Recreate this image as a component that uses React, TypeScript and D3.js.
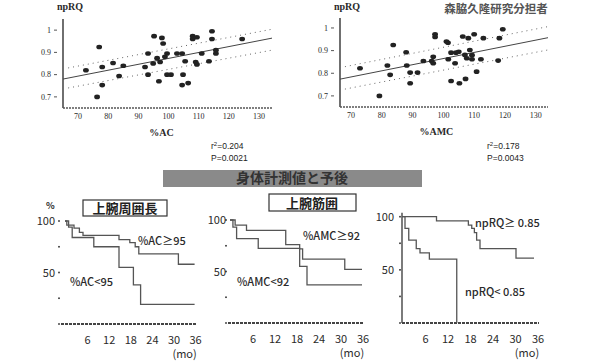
import React from "react";
import * as d3 from "d3";

// scatter data: [% of standard, npRQ]
const acPoints: [number, number][] = [
  [77, 0.924], [72.6, 0.82], [76.3, 0.7], [78, 0.753], [78, 0.834], [81.6, 0.852],
  [85, 0.84], [83.6, 0.794], [93.2, 0.895], [93.2, 0.8], [92.2, 0.834], [95.2, 0.973],
  [97.8, 0.965], [98.2, 0.94], [96.8, 0.77], [94.9, 0.85], [97.2, 0.857], [96.2, 0.874],
  [99.5, 0.895], [98.8, 0.88], [99.5, 0.8], [100.8, 0.8], [102.8, 0.895], [104.5, 0.895],
  [104.8, 0.8], [104.5, 0.753], [106.5, 0.762], [105.5, 0.86], [108, 0.973], [108, 0.96],
  [109.4, 0.968], [109, 0.857], [109.4, 0.846], [111, 0.895], [114.4, 0.995], [114.4, 0.96],
  [113.4, 0.86], [115.7, 0.895], [115.7, 0.91], [124.4, 0.96],
];
const amcPoints: [number, number][] = [
  [72.9, 0.822], [79.2, 0.7], [81.8, 0.834], [82.7, 0.793], [83.7, 0.925], [87.9, 0.893],
  [88.1, 0.834], [89.2, 0.803], [89.2, 0.756], [91.6, 0.803], [93.5, 0.854], [96.2, 0.854],
  [96.7, 0.844], [96.7, 0.873], [97.3, 0.972], [97.3, 0.96], [101, 0.94], [101.5, 0.935],
  [101.6, 0.862], [102.5, 0.891], [102.5, 0.766], [103.8, 0.844], [105.2, 0.756], [104.1, 0.891],
  [105, 0.895], [106.3, 0.962], [107.2, 0.775], [107, 0.881], [107.6, 0.866], [108.1, 0.955],
  [108.6, 0.903], [109.3, 0.862], [110, 0.972], [110.8, 0.807], [112.2, 0.862], [113, 0.955],
  [117.8, 0.856], [118.2, 0.955], [119.3, 0.994], [109.3, 0.88],
];
const acFit: [number, number][] = [[65, 0.78], [134.3, 0.964]];
const acUpper: [number, number][] = [[66.7, 0.83], [134.3, 1.004]];
const acLower: [number, number][] = [[66.7, 0.74], [134.3, 0.91]];
const amcFit: [number, number][] = [[66.4, 0.774], [134, 0.957]];
const amcUpper: [number, number][] = [[68, 0.829], [134, 1.006]];
const amcLower: [number, number][] = [[68, 0.73], [134, 0.903]];

const scatterXTicks = [70, 80, 90, 100, 110, 120, 130];
const scatterYTicks = [1, 0.9, 0.8, 0.7];

// Kaplan-Meier: [month, survival %]
const acHigh: [number, number][] = [[0, 100], [0.5, 96], [2.5, 93], [4, 89], [5, 86], [15, 82], [18, 79], [19.5, 75], [20.5, 68], [31.5, 58], [36, 58]];
const acLow: [number, number][] = [[0, 100], [1, 94], [2, 84], [8, 75], [15, 55], [19, 38], [21, 19], [36, 19]];
const amcHigh: [number, number][] = [[0, 100], [1.4, 95], [4.5, 90], [15.2, 76], [19, 72], [19.8, 62], [31.3, 52], [36, 52]];
const amcLow: [number, number][] = [[0, 100], [0.8, 93], [1.8, 82], [7.7, 72.5], [19, 55], [21, 37], [36, 37]];
const rqHigh: [number, number][] = [[0, 100], [9.2, 96], [17.7, 92], [18.6, 89], [19.3, 85], [19.9, 78], [20.8, 70], [30.4, 61], [35.2, 61]];
const rqLow: [number, number][] = [[0, 100], [0.8, 89], [1.8, 78], [3.8, 70], [4.8, 66], [7.3, 60], [14.6, 0]];

const kmXTicks = [6, 12, 18, 24, 30, 36];
const kmYTicks = [100, 75, 50, 25, 0];
const kmYLabels = [100, 50];

const serif = "'Liberation Serif', 'DejaVu Serif', serif";
const sans = "'Noto Sans CJK JP', 'Liberation Sans', sans-serif";
const ink = "#2a2a2a";

function Scatter(props: any) {
  const { xr, yr, xd, yd, pts, fit, up, lo, title, stats, statX } = props;
  const x = d3.scaleLinear().domain(xd).range(xr);
  const y = d3.scaleLinear().domain(yd).range(yr);
  const line = d3.line<[number, number]>().x((d) => x(d[0])).y((d) => y(d[1]));
  const x0 = xr[0], yb = yr[0];
  return (
    <g>
      <text x={x0 - 6} y={10} fontFamily={serif} fontWeight="bold" fontSize={10} fill={ink}>npRQ</text>
      <line x1={x0} x2={x0} y1={yr[1]} y2={yb} stroke="#333" strokeWidth={1.4} />
      <line x1={x0} x2={xr[1]} y1={yb} y2={yb} stroke="#555" strokeWidth={1.6} strokeDasharray="2 1" />
      {scatterYTicks.map((t) => (
        <g key={t}>
          <line x1={x0 - 9} x2={x0 - 6} y1={y(t)} y2={y(t)} stroke="#555" />
          <text x={x0 - 12} y={y(t)} dy="0.35em" textAnchor="end" fontFamily={serif} fontSize={8} fill={ink}>{t}</text>
        </g>
      ))}
      {scatterXTicks.map((t) => (
        <text key={t} x={x(t)} y={yb + 11} textAnchor="middle" fontFamily={serif} fontSize={8} fill={ink}>{t}</text>
      ))}
      <path d={line(up) || ""} fill="none" stroke="#666" strokeWidth={1} strokeDasharray="1 4" />
      <path d={line(lo) || ""} fill="none" stroke="#666" strokeWidth={1} strokeDasharray="1 4" />
      <path d={line(fit) || ""} fill="none" stroke="#444" strokeWidth={1} />
      {pts.map((p: [number, number], i: number) => (
        <ellipse key={i} cx={x(p[0])} cy={y(p[1])} rx={2.9} ry={2.3} fill="#222" />
      ))}
      <text x={x(100) - 7} y={yb + 28} textAnchor="middle" fontFamily={serif} fontWeight="bold" fontSize={10} fill={ink}>{title}</text>
      <text x={statX} y={149} fontFamily="'Liberation Sans', sans-serif" fontSize={8.5} fill="#222">
        r<tspan dy={-3} fontSize={6}>2</tspan><tspan dy={3}>={stats[0]}</tspan>
      </text>
      <text x={statX} y={161} fontFamily="'Liberation Sans', sans-serif" fontSize={8.5} fill="#222">P={stats[1]}</text>
    </g>
  );
}

function KM(props: any) {
  const { xr, yr, axisX, hi, lo, hiLabel, loLabel, showYAxis, labelEnd, pct } = props;
  const x = d3.scaleLinear().domain([0, 36]).range(xr);
  const y = d3.scaleLinear().domain([0, 100]).range(yr);
  const line = d3.line<[number, number]>().x((d) => x(d[0])).y((d) => y(d[1])).curve(d3.curveStepAfter);
  const yb = yr[0];
  return (
    <g>
      {pct && <text x={pct} y={209} fontFamily={sans} fontWeight="bold" fontSize={9} fill={ink}>%</text>}
      {showYAxis && <line x1={axisX} x2={axisX} y1={yr[1] - 4} y2={yb} stroke="#444" strokeWidth={1.4} />}
      <line x1={axisX} x2={xr[1] + 2} y1={yb} y2={yb} stroke="#444" strokeWidth={2} strokeDasharray="3 1" />
      {kmYTicks.map((t) => (
        <rect key={t} x={axisX - 3} y={y(t) - 0.8} width={2} height={1.6} fill="#555" />
      ))}
      {kmYLabels.map((t) => (
        <text key={t} x={labelEnd} y={y(t) + 4} textAnchor="end" fontFamily={sans} fontSize={11} fill={ink}>{t}</text>
      ))}
      {kmXTicks.map((t) => (
        <text key={t} x={x(t) + 1} y={yb + 20} textAnchor="middle" fontFamily={sans} fontSize={11} fill={ink}>{t}</text>
      ))}
      <text x={xr[1] - 10} y={yb + 34} textAnchor="middle" fontFamily={sans} fontSize={11} fill={ink}>(mo)</text>
      <path d={line(hi) || ""} fill="none" stroke="#555" strokeWidth={1.3} />
      <path d={line(lo) || ""} fill="none" stroke="#555" strokeWidth={1.3} />
      <text x={hiLabel[0]} y={hiLabel[1]} fontFamily={sans} fontWeight={500} fontSize={11} fill={ink}>{hiLabel[2]}</text>
      <text x={loLabel[0]} y={loLabel[1]} fontFamily={sans} fontWeight={500} fontSize={11} fill={ink}>{loLabel[2]}</text>
    </g>
  );
}

export default function App() {
  return (
    <svg width={592} height={362} style={{ position: "absolute", left: 0, top: 0, background: "#fff" }}>
      <rect width={592} height={362} fill="#fff" />
      <Scatter xr={[63, 272]} yr={[108, 19]} xd={[65, 134.3]} yd={[0.65, 1.05]}
        pts={acPoints} fit={acFit} up={acUpper} lo={acLower} title="%AC" stats={["0.204", "0.0021"]} statX={211} />
      <Scatter xr={[340, 548]} yr={[107, 18]} xd={[66.4, 134]} yd={[0.651, 1.044]}
        pts={amcPoints} fit={amcFit} up={amcUpper} lo={amcLower} title="%AMC" stats={["0.178", "0.0043"]} statX={487} />
      <text x={496} y={13} textAnchor="middle" fontFamily={sans} fontWeight="bold" fontSize={11.5} fill="#555">森脇久隆研究分担者</text>

      <rect x={163} y={170} width={259} height={17} fill="#8a8a8a" />
      <text x={292} y={183} textAnchor="middle" fontFamily={sans} fontWeight="bold" fontSize={14} fill="#333">身体計測値と予後</text>

      <rect x={83} y={200} width={84} height={16} fill="#fff" stroke="#333" strokeWidth={1.2} />
      <text x={125} y={213} textAnchor="middle" fontFamily={sans} fontWeight="bold" fontSize={13} fill="#222">上腕周囲長</text>
      <rect x={269} y={194} width={87} height={17} fill="#fff" stroke="#333" strokeWidth={1.2} />
      <text x={312} y={208} textAnchor="middle" fontFamily={sans} fontWeight="bold" fontSize={13} fill="#222">上腕筋囲</text>

      <KM xr={[65, 194.6]} yr={[324, 221]} axisX={61} hi={acHigh} lo={acLow} labelEnd={55} pct={46}
        hiLabel={[138, 245, "%AC≥95"]} loLabel={[70, 286, "%AC<95"]} />
      <KM xr={[230, 362]} yr={[323, 220]} axisX={228} hi={amcHigh} lo={amcLow} labelEnd={226}
        hiLabel={[303, 240, "%AMC≥92"]} loLabel={[237, 286, "%AMC<92"]} />
      <KM xr={[402, 537]} yr={[323, 216.7]} axisX={402} hi={rqHigh} lo={rqLow} labelEnd={394} showYAxis
        hiLabel={[475, 227, "npRQ≥ 0.85"]} loLabel={[465, 296, "npRQ< 0.85"]} />
    </svg>
  );
}
